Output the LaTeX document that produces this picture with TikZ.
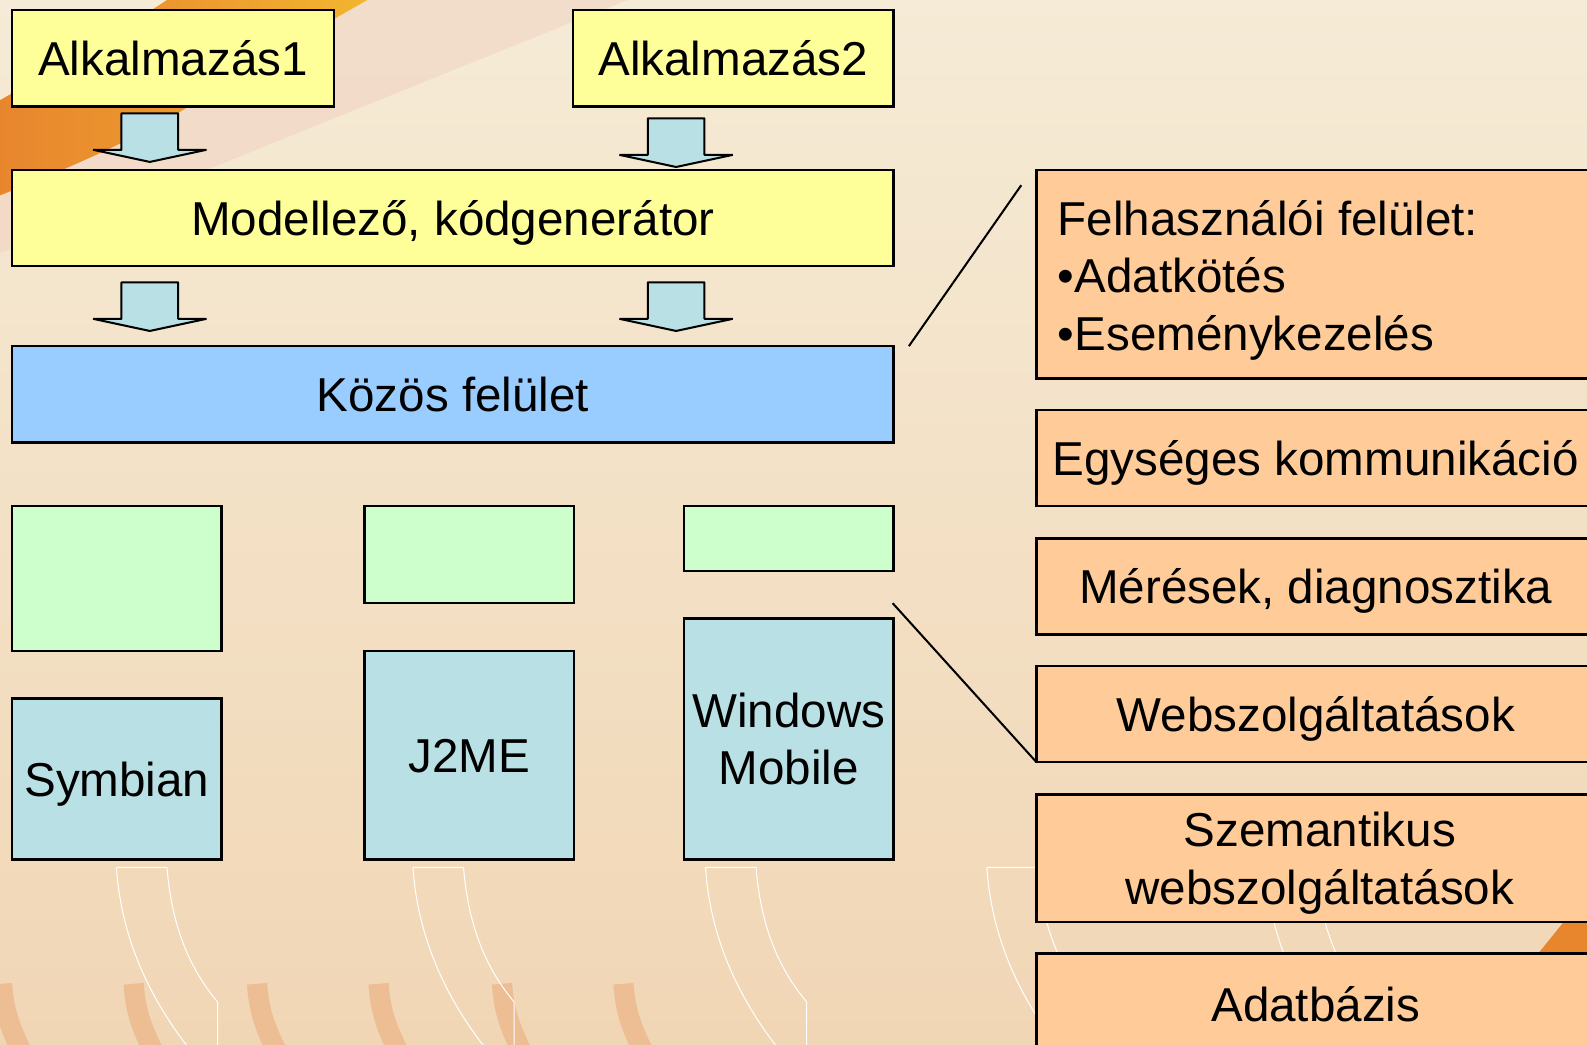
\documentclass[tikz,border=0pt]{standalone}
\usepackage{fontspec}
\setmainfont{Liberation Sans}
\usetikzlibrary{positioning,calc}

\definecolor{bgtop}{HTML}{F5EBD6}
\definecolor{bgbot}{HTML}{F1D6B5}
\definecolor{appyellow}{HTML}{FFFF99}
\definecolor{sharedblue}{HTML}{99CCFF}
\definecolor{libgreen}{HTML}{CCFFCC}
\definecolor{platteal}{HTML}{B9E0E4}
\definecolor{featorange}{HTML}{FFCC99}
\definecolor{bandorange}{HTML}{E8862E}
\definecolor{bandyellow}{HTML}{F2B52F}
\definecolor{bandpink}{HTML}{F0CCBE}
\definecolor{arcorange}{HTML}{EDBD93}

\tikzset{
  box/.style={draw=black, line width=2.5pt, inner sep=0pt, outer sep=0pt,
    anchor=north west, font=\fontsize{47}{57}\selectfont},
  oneline/.style={text height=34pt, text depth=0pt},
  featbox/.style={box, fill=featorange, minimum width=552pt},
  boxtext/.style={inner sep=0pt, font=\fontsize{47}{57}\selectfont},
  callout/.style={draw=black, line width=2pt},
  pics/dnarrow/.style={code={
    \draw[fill=platteal, line width=2pt, line join=bevel]
      (-28,0) -- (28,0) -- (28,36) -- (56,36) -- (0,48) -- (-56,36) -- (-28,36) -- cycle;
  }}
}

\begin{document}
\begin{tikzpicture}[x=1pt, y=-1pt]
  \useasboundingbox (0,0) rectangle (1568,1032);
  \clip (0,0) rectangle (1568,1032);

  % background
  \shade[top color=bgtop, bottom color=bgbot] (0,0) rectangle (1568,1032);
  \fill[bandpink, opacity=.45] (363,0) -- (620,0) .. controls (420,80) and (200,170) .. (0,250)
    -- (0,193) .. controls (60,170) and (150,130) .. (188,104) .. controls (250,65) and (310,30) .. (363,0) -- cycle;
  \shade[left color=bandorange, right color=bandyellow, middle color=bandorange!60!bandyellow]
    (0,99) .. controls (60,65) and (120,30) .. (165,0) -- (363,0)
    .. controls (310,30) and (250,65) .. (188,104) .. controls (150,130) and (60,170) .. (0,193) -- cycle;
  \fill[bandorange] (1447,1032) -- (1570,880) -- (1570,1032) -- cycle;
  \foreach \x in {-8,122,244,364,486,606} {
    \draw[arcorange, line width=20pt] (\x+10,972) .. controls (\x+12,1000) and (\x+18,1015) .. (\x+30,1040);
  }
  \foreach \x in {115,408,697,975,1250} {
    \draw[white, line width=1pt] (\x,857) -- (\x+50,857) .. controls (\x+55,920) and (\x+75,960) .. (\x+100,990) -- (\x+100,1040);
    \draw[white, line width=1pt] (\x,857) .. controls (\x+5,930) and (\x+35,990) .. (\x+75,1040);
  }

  % applications and generator
  \node[box, oneline, fill=appyellow, minimum width=318pt, minimum height=95pt] (alk1) at (12,10) {Alkalmazás1};
  \node[box, oneline, fill=appyellow, minimum width=317pt, minimum height=95pt] (alk2) at (566,10) {Alkalmazás2};
  \node[box, oneline, fill=appyellow, minimum width=871pt, minimum height=95pt] (model) at (12,168) {Modellező, kódgenerátor};
  \node[box, oneline, fill=sharedblue, minimum width=871pt, minimum height=95pt] (common) at (12,342) {Közös felület};

  \pic at (148,112) {dnarrow};
  \pic at (668,117) {dnarrow};
  \pic at (148,279) {dnarrow};
  \pic at (668,279) {dnarrow};

  % platform layers
  \node[box, fill=libgreen, minimum width=207pt, minimum height=143pt] (libA) at (12,500) {};
  \node[box, fill=libgreen, minimum width=207pt, minimum height=96pt] (libB) at (360,500) {};
  \node[box, fill=libgreen, minimum width=207pt, minimum height=64pt] (libC) at (676,500) {};
  \node[box, oneline, fill=platteal, minimum width=207pt, minimum height=159pt] (symb) at (12,690) {Symbian};
  \node[box, oneline, fill=platteal, minimum width=207pt, minimum height=206pt] (j2me) at (360,643) {J2ME};
  \node[box, fill=platteal, align=center, minimum width=207pt, minimum height=238pt] (winmob) at (676,611) {Windows\\Mobile};

  % features
  \node[featbox, minimum height=206pt] (felh) at (1024,168) {};
  \node[boxtext, align=left, anchor=west] (felhtext) at ($(felh.west)+(21,6)$)
    {Felhasználói felület:\\•Adatkötés\\•Eseménykezelés};
  \node[featbox, oneline, minimum height=95pt, below=31pt of felh] (egys) {Egységes kommunikáció};
  \node[featbox, oneline, minimum height=95pt, below=32pt of egys] (meres) {Mérések, diagnosztika};
  \node[featbox, oneline, minimum height=95pt, below=31pt of meres] (web) {Webszolgáltatások};
  \node[featbox, minimum height=126pt, below=32pt of web] (szem) {};
  \node[boxtext, align=center] (szemtext) at ($(szem.center)+(4,5)$) {Szemantikus\\webszolgáltatások};
  \node[featbox, oneline, minimum height=100pt, below=31pt of szem] (adat) {Adatbázis};

  % callout lines
  \coordinate (uiFoot) at (898,342);
  \coordinate (uiHead) at (1009,183);
  \coordinate (libFoot) at (882,596);
  \draw[callout] (uiFoot) -- (uiHead);
  \draw[callout] (libFoot) -- (web.south west);
\end{tikzpicture}
\end{document}
